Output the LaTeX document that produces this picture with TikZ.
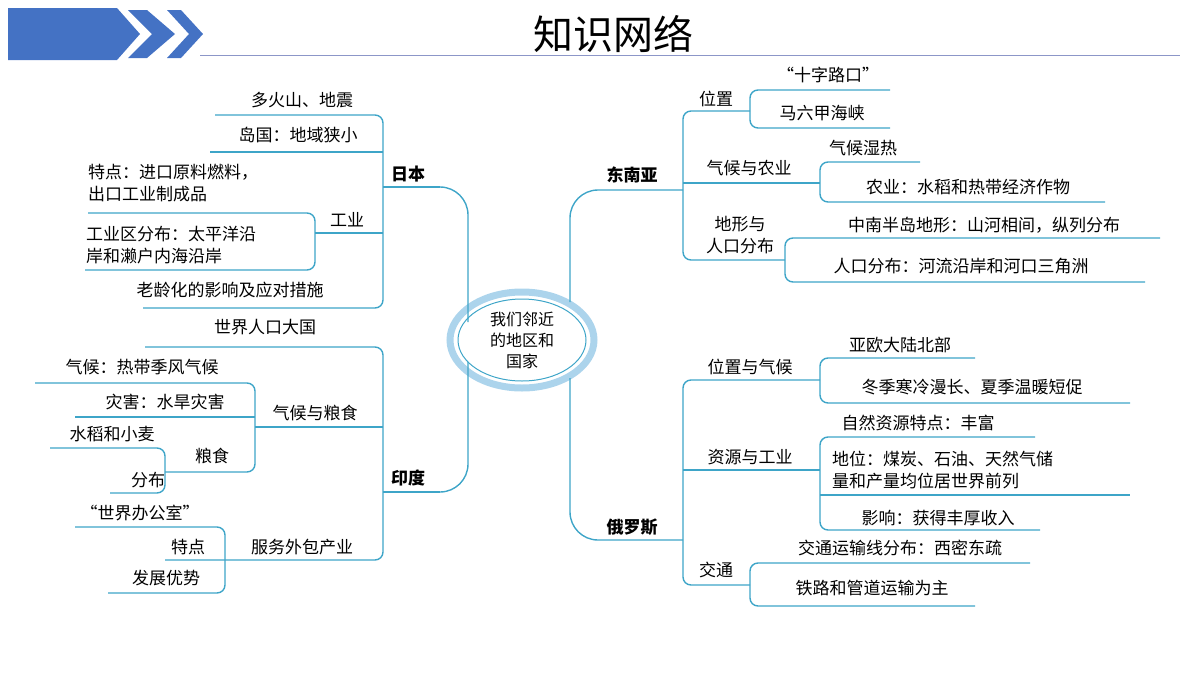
\documentclass[tikz,border=0pt]{standalone}
\usepackage{fontspec}
\newfontfamily\cjk{Noto Sans CJK SC}
\usetikzlibrary{positioning}
\definecolor{linec}{RGB}{62,165,200}
\definecolor{ringc}{RGB}{172,212,236}
\definecolor{hdrc}{RGB}{68,114,196}
\definecolor{rulec}{RGB}{140,150,200}

\begin{document}
\begin{tikzpicture}[
    x=1pt, y=-1pt,
    txt/.style={font=\cjk\fontsize{17}{22}\selectfont, inner sep=0pt, align=left},
    head/.style={font=\cjk\bfseries\fontsize{17}{22}\selectfont, inner sep=0pt},
    lk/.style={draw=linec, line width=1.4pt, rounded corners=8pt},
    trunk/.style={lk, rounded corners=28pt}
]
\useasboundingbox (0,0) rectangle (1200,675);

% header
\fill[hdrc] (8,8) -- (117,8) -- (140,34) -- (117,60) -- (8,60) -- cycle;
\fill[hdrc] (128,10) -- (147,10) -- (175,34) -- (147,58) -- (128,58) -- (152,34) -- cycle;
\fill[hdrc] (167,10) -- (181,10) -- (203,34) -- (181,58) -- (167,58) -- (189,34) -- cycle;
\draw[rulec, line width=1pt] (200,55) -- (1180,55);
\node[font=\cjk\fontsize{40}{44}\selectfont, inner sep=0pt] (title) at (613,34) {知识网络};

% hub
\draw[ringc, line width=7pt] (522,340) ellipse [x radius=72, y radius=48];
\draw[linec, line width=1pt] (522,340) ellipse [x radius=64, y radius=41];
\node[font=\cjk\fontsize{16}{21}\selectfont, inner sep=0pt, align=center] (hub) at (522,340) {我们邻近\\的地区和\\国家};

% Japan
\node[head] (jp) at (408,174) {日本};
\node[txt] (jp1) at (302,100) {多火山、地震};
\node[txt] (jp2) at (298,135) {岛国：地域狭小};
\node[txt, anchor=west] (jp3) at (88,183) {特点：进口原料燃料，\\出口工业制成品};
\node[txt] (jpind) at (347,220) {工业};
\node[txt, anchor=west] (jp4) at (86,245) {工业区分布：太平洋沿\\岸和濑户内海沿岸};
\node[txt] (jp5) at (230,290) {老龄化的影响及应对措施};
\coordinate (jpx) at (383,187);
\draw[trunk] (jpx) -- (468,187) -- (468,322);
\draw[lk] (215,115) -- (383,115) -- (383,308) -- (143,308);
\draw[lk] (210,152) -- (383,152);
\draw[lk] (jpx) -- (440,187);
\draw[lk] (88,213) -- (315,213) -- (315,270) -- (85,270);
\draw[lk] (315,233) -- (383,233);

% India
\node[head] (in) at (408,478) {印度};
\node[txt] (in1) at (265,327) {世界人口大国};
\node[txt] (in2) at (142,367) {气候：热带季风气候};
\node[txt] (in3) at (165,402) {灾害：水旱灾害};
\node[txt] (incl) at (315,413) {气候与粮食};
\node[txt] (in4) at (112,434) {水稻和小麦};
\node[txt] (ingr) at (212,456) {粮食};
\node[txt] (in5) at (148,480) {分布};
\node[txt] (in6) at (140,513) {“世界办公室”};
\node[txt] (in7) at (188,547) {特点};
\node[txt] (insv) at (302,547) {服务外包产业};
\node[txt] (in8) at (166,578) {发展优势};
\coordinate (inx) at (383,492);
\draw[trunk] (inx) -- (468,492) -- (468,362);
\draw[lk] (145,347) -- (383,347) -- (383,560) -- (165,560);
\draw[lk] (inx) -- (440,492);
\draw[lk] (35,383) -- (255,383) -- (255,472) -- (165,472);
\draw[lk] (75,417) -- (255,417);
\draw[lk] (255,427) -- (383,427);
\draw[lk] (50,448) -- (165,448) -- (165,493) -- (110,493);
\draw[lk] (75,527) -- (225,527) -- (225,593) -- (108,593);

% Southeast Asia
\node[head] (sea) at (632,175) {东南亚};
\node[txt] (sea1) at (716,99) {位置};
\node[txt] (sea1a) at (828,75) {“十字路口”};
\node[txt] (sea1b) at (822,113) {马六甲海峡};
\node[txt] (sea2) at (749,168) {气候与农业};
\node[txt] (sea2a) at (863,148) {气候湿热};
\node[txt] (sea2b) at (968,187) {农业：水稻和热带经济作物};
\node[txt, align=center] (sea3) at (740,235) {地形与\\人口分布};
\node[txt] (sea3a) at (984,225) {中南半岛地形：山河相间，纵列分布};
\node[txt] (sea3b) at (961,266) {人口分布：河流沿岸和河口三角洲};
\coordinate (seax) at (683,190);
\draw[trunk] (seax) -- (570,190) -- (570,302);
\draw[lk] (750,111) -- (683,111) -- (683,260) -- (785,260);
\draw[lk] (seax) -- (683,190);
\draw[lk] (890,90) -- (750,90) -- (750,128) -- (890,128);
\draw[lk] (920,162) -- (820,162) -- (820,202) -- (1105,202);
\draw[lk] (683,183) -- (820,183);
\draw[lk] (1160,238) -- (785,238) -- (785,282) -- (1145,282);

% Russia
\node[head] (ru) at (632,527) {俄罗斯};
\node[txt] (ru1) at (750,367) {位置与气候};
\node[txt] (ru1a) at (900,345) {亚欧大陆北部};
\node[txt] (ru1b) at (972,387) {冬季寒冷漫长、夏季温暖短促};
\node[txt] (ru2) at (750,457) {资源与工业};
\node[txt] (ru2a) at (918,423) {自然资源特点：丰富};
\node[txt, anchor=west] (ru2b) at (832,470) {地位：煤炭、石油、天然气储\\量和产量均位居世界前列};
\node[txt] (ru2c) at (938,518) {影响：获得丰厚收入};
\node[txt] (ru3) at (716,570) {交通};
\node[txt] (ru3a) at (900,548) {交通运输线分布：西密东疏};
\node[txt] (ru3b) at (872,588) {铁路和管道运输为主};
\coordinate (rux) at (683,540);
\draw[trunk] (rux) -- (570,540) -- (570,378);
\draw[lk] (820,380) -- (683,380) -- (683,585) -- (750,585);
\draw[lk] (975,358) -- (820,358) -- (820,403) -- (1130,403);
\draw[lk] (1035,437) -- (820,437) -- (820,530) -- (1040,530);
\draw[lk] (683,470) -- (820,470);
\draw[lk] (820,495) -- (1130,495);
\draw[lk] (1030,563) -- (750,563) -- (750,606) -- (975,606);
\end{tikzpicture}
\end{document}
